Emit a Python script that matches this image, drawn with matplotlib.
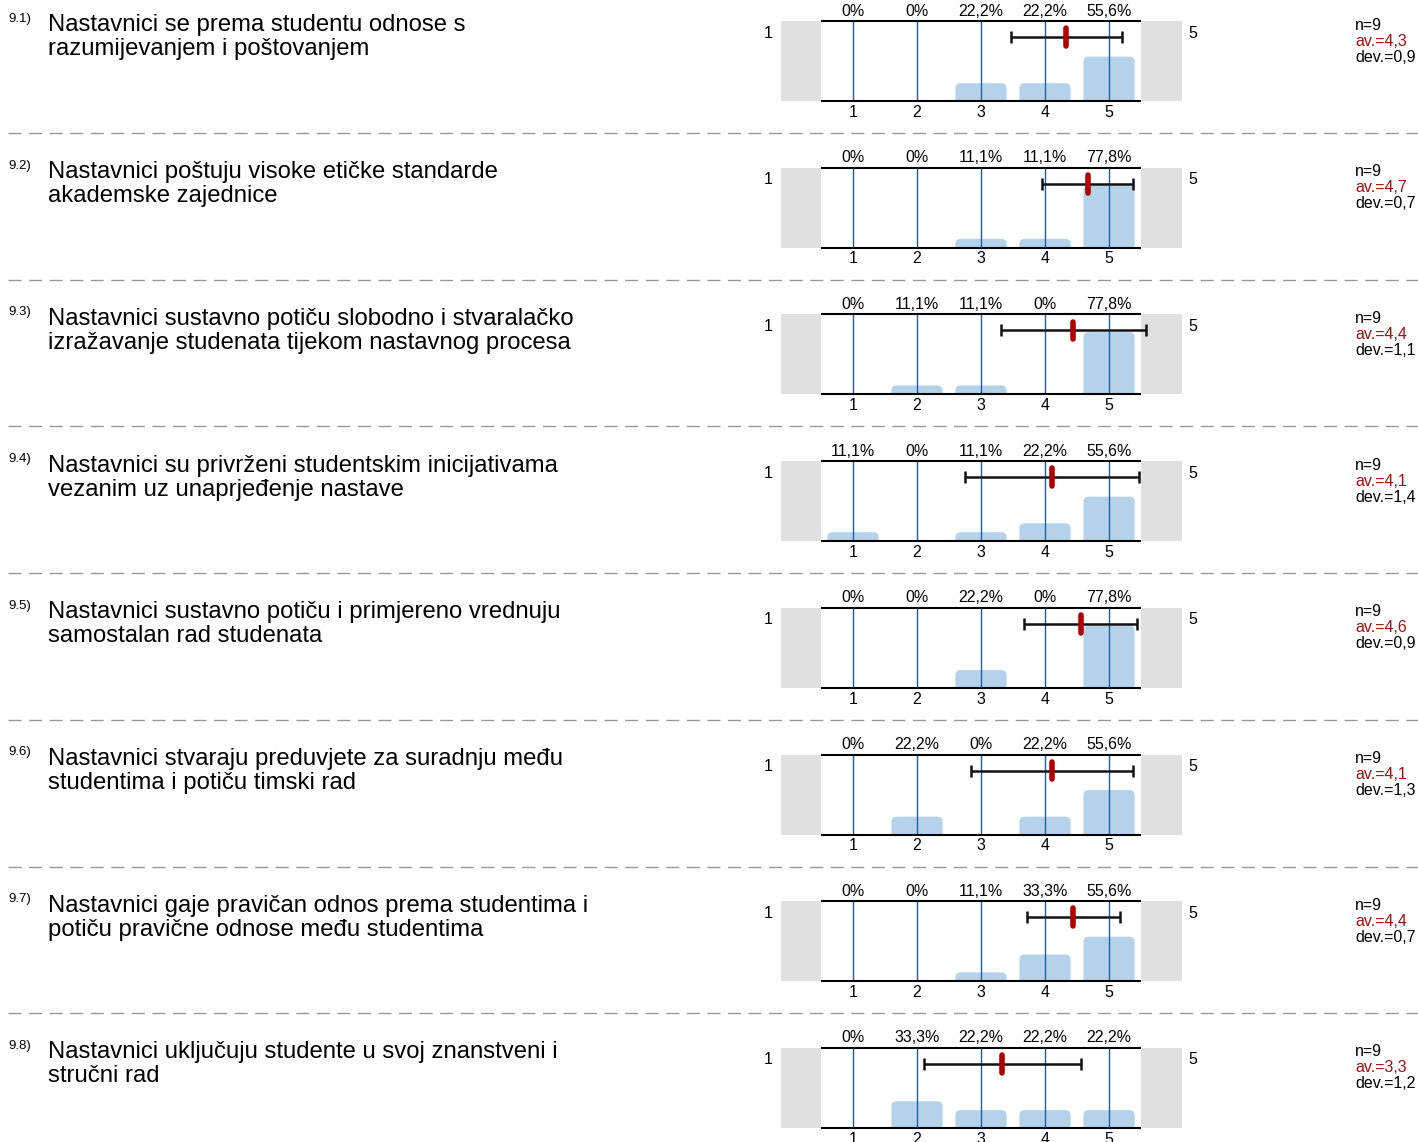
import numpy as np
import matplotlib
matplotlib.use("Agg")
import matplotlib.pyplot as plt
from matplotlib.patches import FancyBboxPatch

plt.rcParams['font.family'] = ['Liberation Sans', 'DejaVu Sans']

numbers = ["9.1)", "9.2)", "9.3)", "9.4)", "9.5)", "9.6)", "9.7)", "9.8)"]
questions = [
    "Nastavnici se prema studentu odnose s\nrazumijevanjem i poštovanjem",
    "Nastavnici poštuju visoke etičke standarde\nakademske zajednice",
    "Nastavnici sustavno potiču slobodno i stvaralačko\nizražavanje studenata tijekom nastavnog procesa",
    "Nastavnici su privrženi studentskim inicijativama\nvezanim uz unaprjeđenje nastave",
    "Nastavnici sustavno potiču i primjereno vrednuju\nsamostalan rad studenata",
    "Nastavnici stvaraju preduvjete za suradnju među\nstudentima i potiču timski rad",
    "Nastavnici gaje pravičan odnos prema studentima i\npotiču pravične odnose među studentima",
    "Nastavnici uključuju studente u svoj znanstveni i\nstručni rad",
]
# broj odgovora po ocjeni 1..5
counts = [
    [0, 0, 2, 2, 5],
    [0, 0, 1, 1, 7],
    [0, 1, 1, 0, 7],
    [1, 0, 1, 2, 5],
    [0, 0, 2, 0, 7],
    [0, 2, 0, 2, 5],
    [0, 0, 1, 3, 5],
    [0, 3, 2, 2, 2],
]
grades = [1, 2, 3, 4, 5]

W, H = 1418, 1142
fig = plt.figure(figsize=(W / 100, H / 100), dpi=100)

BAR = '#b4d3eb'
GRID = '#1f5fa6'
GRAY = '#e0e0e0'
RED = '#b00000'


def fx(x):
    return x / W


def fy(y):
    return 1 - y / H


def fmt(v):
    return f"{v:.1f}".replace('.', ',')


step = 146.7
for i in range(len(questions)):
    top = 21 + i * step
    c = np.array(counts[i])
    n = c.sum()
    vals = np.repeat(grades, c)
    mean = vals.mean()
    dev = vals.std(ddof=1)
    pct = c / n * 100

    ax = fig.add_axes([fx(781), fy(top + 80), fx(1182) - fx(781), 80 / H])
    ax.set_xlim(-0.125, 6.14)
    ax.set_ylim(0, 1)
    ax.axis('off')
    ax.axvspan(-0.125, 0.5, color=GRAY, lw=0)
    ax.axvspan(5.5, 6.14, color=GRAY, lw=0)

    for g, p in zip(grades, pct):
        if p > 0:
            bar = FancyBboxPatch((g - 0.4, -0.2), 0.8, p / 100 + 0.2,
                                 boxstyle="round,pad=0,rounding_size=0.08",
                                 mutation_aspect=0.8, fc=BAR, ec='none', zorder=2)
            ax.add_patch(bar)
        lab = "0%" if p == 0 else fmt(p) + "%"
        ax.text(g, 1.125, lab, ha='center', va='center', fontsize=11.5, clip_on=False)
        ax.text(g, -0.14, str(g), ha='center', va='center', fontsize=11.5, clip_on=False)

    ax.vlines(grades, 0, 1, color=GRID, lw=1, zorder=3)
    ax.hlines([0, 1], 0.5, 5.5, color='black', lw=1.5, zorder=4, clip_on=False)

    ax.hlines(0.8, mean - dev, mean + dev, color='#111111', lw=1.8, zorder=5, clip_on=False)
    ax.vlines([mean - dev, mean + dev], 0.725, 0.875, color='#111111', lw=1.8, zorder=5, clip_on=False)
    ax.plot([mean, mean], [0.69, 0.91], color=RED, lw=4, solid_capstyle='round',
            zorder=6, clip_on=False)

    ax.text(-0.33, 0.85, "1", ha='center', va='center', fontsize=11.5, clip_on=False)
    ax.text(6.31, 0.85, "5", ha='center', va='center', fontsize=11.5, clip_on=False)

    fig.text(fx(8), fy(top - 2), numbers[i], ha='left', va='center', fontsize=9.5)
    for k, line in enumerate(questions[i].split('\n')):
        fig.text(fx(48), fy(top + 4.5 + 24 * k), line, ha='left', va='center', fontsize=17.2)

    fig.text(fx(1355), fy(top + 4), f"n={n}", ha='left', va='center', fontsize=11.5)
    fig.text(fx(1355), fy(top + 20), "av.=" + fmt(mean), ha='left', va='center',
             fontsize=11.5, color='#a01010')
    fig.text(fx(1355), fy(top + 36), "dev.=" + fmt(dev), ha='left', va='center', fontsize=11.5)

    if i < len(questions) - 1:
        ys = fy(top + 112)
        fig.add_artist(plt.Line2D([fx(8), 1], [ys, ys], color='#999999', lw=1,
                                  ls=(0, (9.4, 5.4))))

fig.savefig("out.png", dpi=100)
